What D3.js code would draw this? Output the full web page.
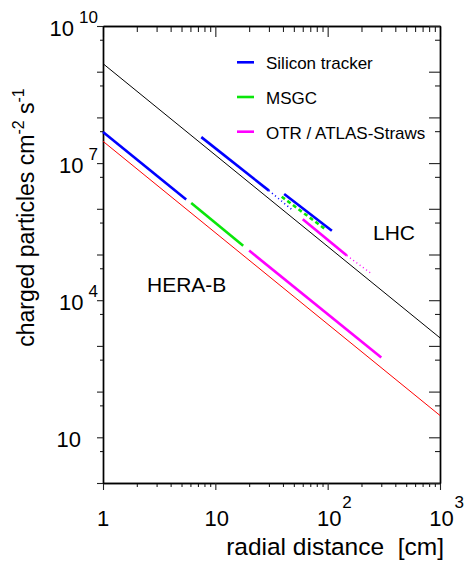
<!DOCTYPE html>
<meta charset="utf-8">
<html>
<head>
<title>charged particles vs radial distance</title>
<script src="https://cdn.jsdelivr.net/npm/d3@7"></script>
<style>
	body { margin: 0; background: #fff; }
	text { font-family: "Liberation Sans", Arial, sans-serif; fill: #000; }
</style>
</head>
<body>
<svg id="chart" width="466" height="561"></svg>
<script>
	// flux lines, [radius cm, particles cm^-2 s^-1] read at both ends
	var lhcLine = [[1, 1.5e9], [1000, 1.5e3]];
	var heraLine = [[1, 3e7], [1000, 30]];

	// HERA-B detector ranges
	var heraSilicon = [[1, 4.8e7], [5.5, 1.6e6]];
	var heraMsgc = [[6.1, 1.34e6], [17.7, 1.55e5]];
	var heraOtr = [[20, 1.22e5], [300, 5.6e2]];

	// LHC detector ranges
	var lhcSilicon1 = [[7.5, 3.7e7], [30, 2.5e6]];
	var lhcSiliconDots = [[30, 2.5e6], [48, 9.6e5]];
	var lhcSilicon2 = [[41, 2.1e6], [109, 3.3e5]];
	var lhcMsgc = [[39, 1.84e6], [98, 3.4e5]];
	var lhcOtr = [[60, 5.9e5], [148, 9.5e4]];
	var lhcOtrDots = [[148, 9.5e4], [242, 3.9e4]];

	var legendNames = ["Silicon tracker", "MSGC", "OTR / ATLAS-Straws"];
	var xLabelPowers = [0, 1, 2, 3];
	var yLabelPowers = [1, 4, 7, 10];

	var blue = "#0000ff", green = "#0ae60a", magenta = "#ff00ff";
	var legendColors = [blue, green, magenta];

	var svg = d3.select("#chart");
	var x = d3.scaleLog().domain([1, 1000]).range([103, 440]),
		y = d3.scaleLog().domain([1, 1e10]).range([483, 26]);

	// tick positions
	var xMajor = [1, 10, 100, 1000], xMinor = [];
	[1, 10, 100].forEach(function (d) {
		d3.range(2, 10).forEach(function (k) { xMinor.push(k * d); });
	});
	var yMajor = d3.range(0, 11).map(function (p) { return Math.pow(10, p); }),
		yMinor = d3.range(0, 10).map(function (p) { return 5 * Math.pow(10, p); });

	function addAxis(axis, tr) {
		var g = svg.append("g").attr("transform", tr).call(axis.tickFormat("").tickSizeOuter(0));
		g.select(".domain").attr("stroke", "#000").attr("stroke-width", 1.4);
		g.selectAll(".tick line").attr("stroke", "#222").attr("stroke-width", 1.1);
	}
	addAxis(d3.axisBottom(x).tickValues(xMinor).tickSize(4), "translate(0,483)");
	addAxis(d3.axisBottom(x).tickValues(xMajor).tickSize(7), "translate(0,483)");
	addAxis(d3.axisTop(x).tickValues(xMinor).tickSize(-6), "translate(0,26)");
	addAxis(d3.axisTop(x).tickValues(xMajor).tickSize(-11), "translate(0,26)");
	addAxis(d3.axisLeft(y).tickValues(yMinor).tickSize(3), "translate(103,0)");
	addAxis(d3.axisLeft(y).tickValues(yMajor).tickSize(6), "translate(103,0)");
	addAxis(d3.axisRight(y).tickValues(yMinor).tickSize(-5), "translate(440,0)");
	addAxis(d3.axisRight(y).tickValues(yMajor).tickSize(-11), "translate(440,0)");

	// lines
	var line = d3.line()
		.x(function (d) { return x(d[0]); })
		.y(function (d) { return y(d[1]); });

	var series = [
		{ pts: lhcLine, color: "#000", w: 1 },
		{ pts: heraLine, color: "#ff0000", w: 1 },
		{ pts: heraSilicon, color: blue, w: 2.6 },
		{ pts: heraMsgc, color: green, w: 2.6 },
		{ pts: heraOtr, color: magenta, w: 2.6 },
		{ pts: lhcSilicon1, color: blue, w: 2.6 },
		{ pts: lhcSiliconDots, color: blue, w: 1.6, dash: "1,3" },
		{ pts: lhcSilicon2, color: blue, w: 2.6 },
		{ pts: lhcMsgc, color: green, w: 2.6, dash: "4,3" },
		{ pts: lhcOtr, color: magenta, w: 2.6 },
		{ pts: lhcOtrDots, color: magenta, w: 1.4, dash: "1,3" }
	];

	svg.append("g").selectAll("path")
		.data(series)
		.enter()
		.append("path")
		.attr("d", function (d) { return line(d.pts); })
		.attr("fill", "none")
		.attr("stroke", function (d) { return d.color; })
		.attr("stroke-width", function (d) { return d.w; })
		.attr("stroke-dasharray", function (d) { return d.dash || null; });

	// y tick labels
	yLabelPowers.forEach(function (p) {
		var ty = y(Math.pow(10, p));
		if (p == 1) {
			svg.append("text").attr("x", 81).attr("y", ty + 9.5)
				.attr("text-anchor", "end").attr("font-size", "22px").text("10");
			return;
		}
		var ex = svg.append("text").attr("x", 98).attr("y", ty - 3.5)
			.attr("text-anchor", "end").attr("font-size", "17px").text(p);
		var ew = ex.node().getComputedTextLength();
		svg.append("text").attr("x", 98 - ew - 5).attr("y", ty + 9.5)
			.attr("text-anchor", "end").attr("font-size", "22px").text("10");
	});

	// x tick labels
	xLabelPowers.forEach(function (p) {
		var tx = x(Math.pow(10, p));
		svg.append("text").attr("x", tx + (p == 0 ? 0 : 1.5)).attr("y", 525.5)
			.attr("text-anchor", "middle").attr("font-size", "22px").text(p == 0 ? "1" : "10");
		if (p >= 2) {
			svg.append("text").attr("x", tx + 14.5).attr("y", 508)
				.attr("font-size", "17px").text(p);
		}
	});

	// axis titles
	svg.append("text")
		.attr("x", 444).attr("y", 554.5)
		.attr("text-anchor", "end")
		.attr("font-size", "24.5px")
		.text("radial distance\u00a0 [cm]");

	var yt = svg.append("text")
		.attr("transform", "translate(34,217.5) rotate(-90)")
		.attr("text-anchor", "middle")
		.attr("font-size", "23px");
	yt.append("tspan").text("charged particles cm");
	yt.append("tspan").attr("dy", -10).attr("font-size", "16px").text("-2");
	yt.append("tspan").attr("dy", 10).text(" s");
	yt.append("tspan").attr("dy", -10).attr("font-size", "16px").text("-1");

	// annotations
	svg.append("text").attr("x", 373).attr("y", 240).attr("font-size", "21px").text("LHC");
	svg.append("text").attr("x", 147).attr("y", 291.5).attr("font-size", "21px").text("HERA-B");

	// legend
	var legendY = d3.scalePoint().domain(legendNames).range([62.3, 131.7]);
	var lg = svg.append("g").selectAll("g.leg")
		.data(legendNames)
		.enter()
		.append("g")
		.attr("class", "leg")
		.attr("transform", function (d) { return "translate(0," + legendY(d) + ")"; });
	lg.append("line")
		.attr("x1", 237).attr("x2", 254)
		.attr("stroke", function (d, i) { return legendColors[i]; })
		.attr("stroke-width", 2.6);
	lg.append("text")
		.attr("x", 266).attr("y", 7)
		.attr("font-size", "17px")
		.text(function (d) { return d; });
</script>
</body>
</html>
